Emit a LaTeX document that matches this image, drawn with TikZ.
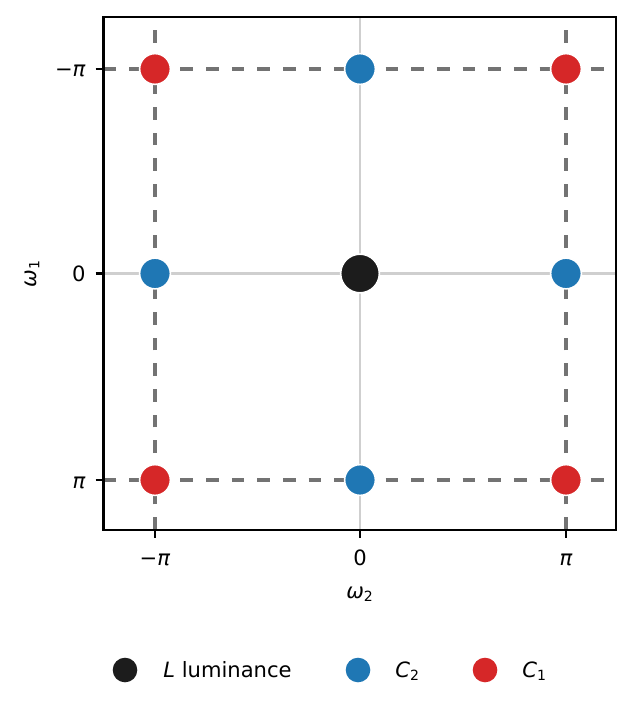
\documentclass[tikz,border=0pt]{standalone}
\usepackage{fontspec}
\setmainfont{DejaVu Sans}
\usepackage{tikz}

\definecolor{lumblack}{HTML}{1C1C1C}
\definecolor{ctwoblue}{HTML}{1F77B4}
\definecolor{conered}{HTML}{D62728}
\definecolor{refgray}{HTML}{737373}
\definecolor{gridgray}{HTML}{CFCFCF}

\newcommand{\wsub}[1]{\textit{ω}\textsubscript{#1}}
\newcommand{\csub}[1]{\textit{C}\textsubscript{#1}}

\begin{document}
\begin{tikzpicture}[x=0.02cm, y=-0.02cm,
    font=\fontsize{12}{14.4}\selectfont,
    dot/.style={circle, fill=#1, draw=white, line width=0.9pt,
      inner sep=0pt, minimum size=17.5pt},
    keydot/.style={circle, fill=#1, inner sep=0pt, minimum size=14pt},
    refline/.style={refgray, line width=2.2pt,
      dash pattern=on 7.2pt off 7.4pt},
    gridline/.style={gridgray, line width=1.2pt},
    tickmark/.style={line width=1.4pt}]
  \useasboundingbox (0,0) rectangle (635,709);

  % axes box
  \coordinate (tl) at (103.5,17);
  \coordinate (br) at (616,530);

  % grid at zero
  \draw[gridline] (360,17) -- (360,530);
  \draw[gridline] (103.5,273.5) -- (616,273.5);

  % lines at -pi and pi
  \foreach \y in {69,480}
    \draw[refline] (103.5,\y) -- (616,\y);
  \foreach \x in {155,566}
    \draw[refline] (\x,530) -- (\x,17);

  % components
  \foreach \x/\y/\c [count=\i] in {155/69/conered, 360/69/ctwoblue,
      566/69/conered, 155/273.5/ctwoblue, 566/273.5/ctwoblue,
      155/480/conered, 360/480/ctwoblue, 566/480/conered}
    \node[dot=\c] (m\i) at (\x,\y) {};
  \node[dot=lumblack, minimum size=22pt] (lum) at (360,273.5) {};

  \draw[tickmark] (tl) rectangle (br);

  % ticks
  \foreach \x in {155,360,566}
    \draw[tickmark] (\x,530) -- (\x,538);
  \foreach \y in {69,273.5,480}
    \draw[tickmark] (95.5,\y) -- (103.5,\y);

  \node[anchor=base] (xa) at (155,565) {−\textit{π}};
  \node[anchor=base] (xb) at (360,565) {0};
  \node[anchor=base] (xc) at (566,565) {\textit{π}};
  \node[anchor=base east, inner sep=0pt] (ya) at (86,77) {−\textit{π}};
  \node[anchor=base east, inner sep=0pt] (yb) at (86,281) {0};
  \node[anchor=base east, inner sep=0pt] (yc) at (86,488) {\textit{π}};

  \node (xlabel) at (360,594) {\wsub{2}};
  \node[rotate=90] (ylabel) at (32,273.5) {\wsub{1}};

  % legend
  \node[keydot=lumblack] (klum) at (125,670) {};
  \node[keydot=ctwoblue] (kctwo) at (358,670) {};
  \node[keydot=conered] (kcone) at (485,670) {};
  \node[anchor=base west, inner sep=0pt] (tlum) at (163,677) {\textit{L} luminance};
  \node[anchor=base west, inner sep=0pt] (tctwo) at (395,677) {\csub{2}};
  \node[anchor=base west, inner sep=0pt] (tcone) at (522,677) {\csub{1}};
\end{tikzpicture}
\end{document}
